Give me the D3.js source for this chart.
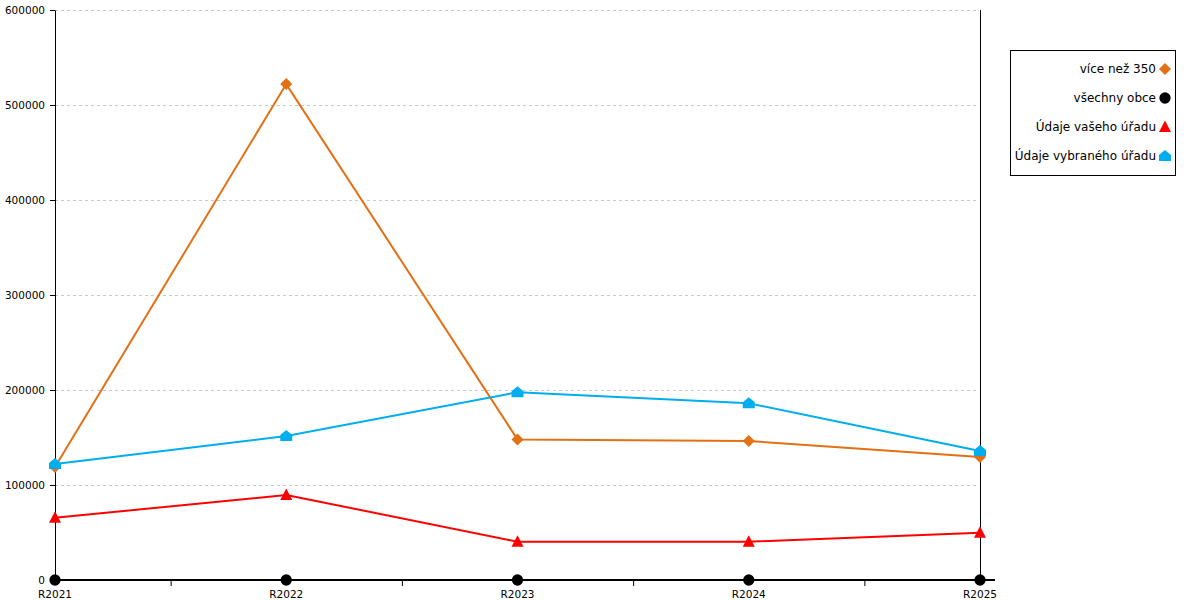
<!DOCTYPE html>
<html>
<head>
<meta charset="utf-8">
<script src="https://cdn.jsdelivr.net/npm/d3@7"></script>
<style>
  body { margin: 0; background: #fff; }
  svg { font-family: "DejaVu Sans", sans-serif; font-size: 12px; }
</style>
</head>
<body>
<div id="chart"></div>
<script>
// category labels and series values
const years = ["R2021", "R2022", "R2023", "R2024", "R2025"];
const viceNez350 = [119000, 522000, 148000, 146300, 129500];
const vsechnyObce = [0, 0, 0, 0, 0];
const vasUrad = [65500, 89500, 40300, 40300, 49800];
const vybranyUrad = [122000, 151500, 197600, 186000, 135800];
const yTicks = [0, 100000, 200000, 300000, 400000, 500000, 600000];

const width = 1200, height = 600,
    margin = ({ top: 10, right: 220, bottom: 20, left: 55 }),
    tickFont = 10.5;

const series = [
    { name: "více než 350", values: viceNez350, color: "#e37014", shape: "diamond" },
    { name: "všechny obce", values: vsechnyObce, color: "#000000", shape: "circle" },
    { name: "Údaje vašeho úřadu", values: vasUrad, color: "#ff0000", shape: "triangle" },
    { name: "Údaje vybraného úřadu", values: vybranyUrad, color: "#00aeef", shape: "house" }
];

const svg = d3.select("#chart")
    .append("svg")
    .attr("width", width)
    .attr("height", height);

const x = d3.scalePoint()
    .domain(years)
    .range([margin.left, width - margin.right]);

const y = d3.scaleLinear()
    .domain([0, 600000])
    .range([height - margin.bottom, margin.top]);

const x0 = x(years[0]), x1 = x(years[years.length - 1]);

// dashed grid
svg.append("g")
    .selectAll("line")
    .data(yTicks.filter(d => d > 0))
    .join("line")
    .attr("x1", x0)
    .attr("x2", x1 - 3)
    .attr("y1", d => y(d) + 0.5)
    .attr("y2", d => y(d) + 0.5)
    .attr("stroke", "#c8c8c8")
    .attr("stroke-dasharray", "3,3");

// y axis
const yAxis = svg.append("g")
    .attr("transform", `translate(${x0},0)`)
    .call(d3.axisLeft(y).tickValues(yTicks).tickFormat(d3.format("d"))
        .tickSize(5).tickPadding(5).tickSizeOuter(0));
yAxis.select(".domain").attr("stroke", "#000");
yAxis.selectAll("text").attr("font-family", "DejaVu Sans").attr("font-size", tickFont).attr("fill", "#000");

// right line
svg.append("line")
    .attr("x1", x1 + 0.5).attr("x2", x1 + 0.5)
    .attr("y1", y(600000)).attr("y2", y(0))
    .attr("stroke", "#000");

// x axis
svg.append("line")
    .attr("x1", x0).attr("x2", x1 + 15)
    .attr("y1", y(0)).attr("y2", y(0))
    .attr("stroke", "#000")
    .attr("stroke-width", 2);

const step = x.step();
svg.append("g")
    .selectAll("line")
    .data(years.slice(0, -1))
    .join("line")
    .attr("x1", d => x(d) + step / 2 + 0.5)
    .attr("x2", d => x(d) + step / 2 + 0.5)
    .attr("y1", y(0))
    .attr("y2", y(0) + 6)
    .attr("stroke", "#000");

svg.append("g")
    .selectAll("text")
    .data(years)
    .join("text")
    .attr("x", d => x(d))
    .attr("y", y(0) + 18)
    .attr("text-anchor", "middle")
    .attr("font-size", tickFont)
    .attr("fill", "#000")
    .text(d => d);

function markerPath(shape) {
    if (shape === "diamond") return "M0,-6L6,0L0,6L-6,0Z";
    if (shape === "circle") return d3.symbol(d3.symbolCircle, 100)();
    if (shape === "triangle") return "M0,-6.5L6,5L-6,5Z";
    return "M0,-6L6,-1L6,5L-6,5L-6,-1Z"; // house
}

const line = d3.line()
    .x((d, i) => x(years[i]))
    .y(d => y(d));

// draw in order so blue sits on top
series.forEach(s => {
    const g = svg.append("g");
    g.append("path")
        .attr("d", line(s.values))
        .attr("fill", "none")
        .attr("stroke", s.color)
        .attr("stroke-width", 2);
    g.selectAll("path.m")
        .data(s.values)
        .join("path")
        .attr("class", "m")
        .attr("transform", (d, i) => `translate(${x(years[i])},${y(d)})`)
        .attr("d", markerPath(s.shape))
        .attr("fill", s.color);
});

// legend
const legend = svg.append("g");
legend.append("rect")
    .attr("x", 1010.5).attr("y", 50.5)
    .attr("width", 165).attr("height", 125)
    .attr("fill", "#fff")
    .attr("stroke", "#000");

const items = legend.selectAll("g")
    .data(series)
    .join("g")
    .attr("transform", (d, i) => `translate(1165,${69 + i * 29})`);

items.append("path")
    .attr("d", d => markerPath(d.shape))
    .attr("fill", d => d.color);

items.append("text")
    .attr("x", -9)
    .attr("y", 4)
    .attr("text-anchor", "end")
    .attr("fill", "#000")
    .text(d => d.name);
</script>
</body>
</html>
